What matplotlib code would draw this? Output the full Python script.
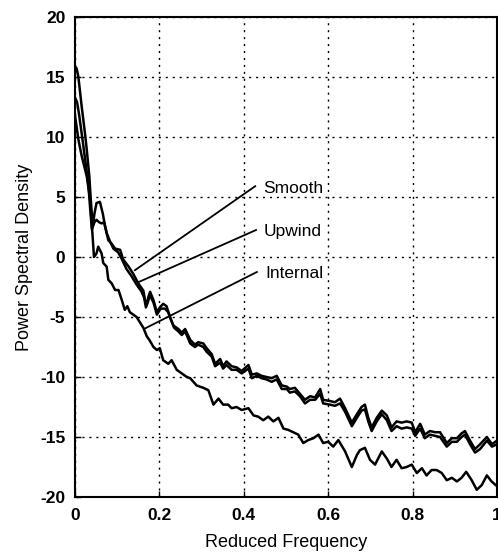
import matplotlib.pyplot as plt

plt.rcParams['font.family'] = ['Liberation Sans', 'DejaVu Sans']
plt.rcParams['axes.unicode_minus'] = False

# Smooth (upper curve of the pair)
x_smooth = [0.000, 0.004, 0.008, 0.016, 0.024, 0.028, 0.034, 0.037, 0.042, 0.046, 0.051, 0.059,
            0.066, 0.071, 0.079, 0.087, 0.095, 0.107, 0.114, 0.127, 0.138, 0.150, 0.162, 0.166,
            0.170, 0.174, 0.178, 0.186, 0.194, 0.201, 0.209, 0.217, 0.225, 0.233, 0.245, 0.253,
            0.261, 0.273, 0.284, 0.292, 0.304, 0.312, 0.324, 0.332, 0.344, 0.351, 0.359, 0.371,
            0.383, 0.395, 0.411, 0.419, 0.431, 0.442, 0.454, 0.466, 0.478, 0.490, 0.502, 0.509,
            0.521, 0.533, 0.545, 0.557, 0.569, 0.581, 0.588, 0.604, 0.616, 0.628, 0.640, 0.656,
            0.668, 0.679, 0.687, 0.695, 0.703, 0.715, 0.727, 0.739, 0.750, 0.762, 0.774, 0.786,
            0.798, 0.806, 0.818, 0.829, 0.841, 0.853, 0.865, 0.881, 0.893, 0.905, 0.916, 0.924,
            0.936, 0.948, 0.960, 0.976, 0.988, 1.000]
y_smooth = [15.9, 15.7, 15.0, 12.5, 10.2, 8.9, 6.7, 5.0, 2.5, 3.6, 4.5, 4.6,
            3.6, 2.6, 1.4, 1.1, 0.7, 0.6, -0.2, -0.8, -1.4, -2.2, -2.8, -3.6,
            -4.0, -3.3, -2.9, -3.6, -4.6, -4.2, -3.9, -4.1, -5.0, -5.7, -6.0, -6.3,
            -6.0, -6.9, -7.3, -7.1, -7.2, -7.6, -8.1, -8.9, -8.5, -9.1, -8.7, -9.1,
            -9.2, -9.5, -9.0, -9.8, -9.7, -9.9, -10.0, -10.1, -9.9, -10.7, -10.8, -11.0,
            -10.9, -11.4, -11.9, -11.6, -11.7, -11.0, -11.9, -12.0, -12.1, -11.8, -12.6, -13.8,
            -13.1, -12.5, -12.3, -13.4, -14.2, -13.4, -12.8, -13.2, -14.2, -13.7, -13.8, -13.7,
            -13.8, -14.6, -13.9, -14.8, -14.5, -14.6, -14.6, -15.5, -15.1, -15.1, -14.7, -14.5,
            -15.3, -16.0, -15.6, -15.0, -15.6, -15.3]

# Upwind
x_upwind = [0.000, 0.005, 0.010, 0.020, 0.026, 0.032, 0.036, 0.040, 0.046, 0.051, 0.057, 0.063,
            0.069, 0.075, 0.083, 0.091, 0.102, 0.110, 0.122, 0.134, 0.146, 0.158, 0.164, 0.168,
            0.172, 0.178, 0.186, 0.194, 0.203, 0.213, 0.221, 0.227, 0.235, 0.245, 0.253, 0.261,
            0.273, 0.284, 0.292, 0.304, 0.312, 0.324, 0.332, 0.344, 0.351, 0.359, 0.371, 0.383,
            0.395, 0.411, 0.419, 0.431, 0.442, 0.454, 0.466, 0.478, 0.490, 0.502, 0.509, 0.521,
            0.533, 0.545, 0.557, 0.569, 0.581, 0.588, 0.604, 0.616, 0.628, 0.640, 0.656, 0.668,
            0.679, 0.687, 0.695, 0.703, 0.715, 0.727, 0.739, 0.750, 0.762, 0.774, 0.786, 0.798,
            0.806, 0.818, 0.829, 0.841, 0.853, 0.865, 0.881, 0.893, 0.905, 0.916, 0.924, 0.936,
            0.948, 0.960, 0.976, 0.988, 1.000]
y_upwind = [13.3, 12.9, 11.8, 9.2, 7.6, 5.9, 4.0, 2.3, 2.9, 3.1, 2.9, 2.8,
            2.9, 2.0, 1.3, 0.7, 0.4, -0.1, -1.0, -1.6, -2.3, -2.9, -3.4, -4.2,
            -3.8, -3.2, -3.8, -4.8, -4.3, -4.3, -4.6, -5.2, -5.9, -6.2, -6.5, -6.2,
            -7.2, -7.5, -7.3, -7.5, -7.9, -8.3, -9.1, -8.8, -9.3, -9.0, -9.4, -9.4,
            -9.7, -9.3, -10.1, -9.9, -10.1, -10.2, -10.4, -10.2, -11.0, -11.0, -11.3, -11.2,
            -11.6, -12.2, -11.9, -11.9, -11.4, -12.2, -12.3, -12.4, -12.2, -12.9, -14.1, -13.4,
            -12.8, -12.7, -13.7, -14.5, -13.7, -13.1, -13.6, -14.5, -14.1, -14.3, -14.2, -14.3,
            -14.9, -14.3, -15.1, -14.8, -14.9, -15.0, -15.8, -15.4, -15.4, -15.0, -14.8, -15.6,
            -16.3, -16.0, -15.3, -15.8, -15.6]

# Internal
x_internal = [0.000, 0.008, 0.016, 0.028, 0.036, 0.045, 0.051, 0.055, 0.063, 0.067, 0.075, 0.079,
              0.087, 0.095, 0.103, 0.111, 0.118, 0.124, 0.130, 0.146, 0.162, 0.170, 0.176, 0.186,
              0.194, 0.201, 0.209, 0.221, 0.229, 0.241, 0.253, 0.265, 0.273, 0.288, 0.304, 0.316,
              0.328, 0.340, 0.351, 0.363, 0.371, 0.383, 0.395, 0.411, 0.423, 0.434, 0.446, 0.458,
              0.470, 0.482, 0.494, 0.505, 0.517, 0.529, 0.541, 0.553, 0.565, 0.577, 0.588, 0.600,
              0.612, 0.624, 0.640, 0.656, 0.668, 0.675, 0.687, 0.699, 0.711, 0.727, 0.739, 0.750,
              0.762, 0.774, 0.786, 0.798, 0.810, 0.822, 0.833, 0.845, 0.857, 0.869, 0.881, 0.893,
              0.905, 0.916, 0.927, 0.940, 0.952, 0.964, 0.976, 0.987, 1.000]
y_internal = [11.8, 9.8, 8.4, 6.7, 4.75, 0.0, 0.3, 0.86, 0.3, -0.5, -0.8, -1.9,
              -2.2, -2.75, -2.75, -3.6, -4.4, -4.1, -4.6, -5.0, -5.9, -6.6, -6.9, -7.5,
              -7.75, -7.6, -8.6, -8.9, -8.6, -9.4, -9.7, -10.0, -10.1, -10.7, -10.9, -11.1,
              -12.3, -11.8, -12.3, -12.3, -12.6, -12.5, -12.75, -12.6, -13.2, -13.3, -13.6, -13.3,
              -13.7, -13.4, -14.3, -14.4, -14.6, -14.8, -15.5, -15.25, -15.1, -14.8, -15.5, -15.4,
              -15.8, -15.25, -16.2, -17.5, -16.5, -16.1, -15.9, -16.9, -17.3, -16.2, -16.8, -17.5,
              -16.9, -17.6, -17.5, -17.3, -18.0, -17.6, -18.2, -17.75, -17.75, -18.0, -18.6, -18.4,
              -18.7, -18.4, -17.9, -18.6, -19.4, -19.0, -18.2, -18.7, -19.1]

# annotation: label, curve point, text point
labels = ['Smooth', 'Upwind', 'Internal']
line_start = [(0.142, -1.1), (0.150, -2.1), (0.166, -5.95)]
line_end = [(0.427, 5.9), (0.429, 2.25), (0.431, -1.25)]

fig = plt.figure(figsize=(4.98, 5.56), dpi=100)
ax = fig.add_axes([0.1506, 0.1061, 0.8474, 0.8633])

ax.plot(x_smooth, y_smooth, color='black', lw=1.8)
ax.plot(x_upwind, y_upwind, color='black', lw=1.8)
ax.plot(x_internal, y_internal, color='black', lw=1.8)

for lab, p0, p1 in zip(labels, line_start, line_end):
    ax.plot([p0[0], p1[0]], [p0[1], p1[1]], color='black', lw=1.3)
    ax.text(p1[0] + 0.019, p1[1] - 0.15, lab, ha='left', va='center', fontsize=12.5)

ax.set_xlim(0, 1)
ax.set_ylim(-20, 20)
ax.set_xticks([0, 0.2, 0.4, 0.6, 0.8, 1])
ax.set_xticklabels(['0', '0.2', '0.4', '0.6', '0.8', '1'])
ax.set_yticks([-20, -15, -10, -5, 0, 5, 10, 15, 20])
ax.grid(True, color='black', linestyle=(0, (1.5, 3.5)), lw=1.0)
ax.tick_params(direction='in', length=4, width=1, labelsize=12.5, pad=7)
for lab in ax.get_xticklabels() + ax.get_yticklabels():
    lab.set_fontweight('bold')
ax.tick_params(axis='x', pad=8)
for s in ax.spines.values():
    s.set_linewidth(1.5)

ax.set_xlabel('Reduced Frequency', fontsize=13, labelpad=8)
ax.set_ylabel('Power Spectral Density', fontsize=13, labelpad=5)

fig.savefig('out.png', dpi=100)
